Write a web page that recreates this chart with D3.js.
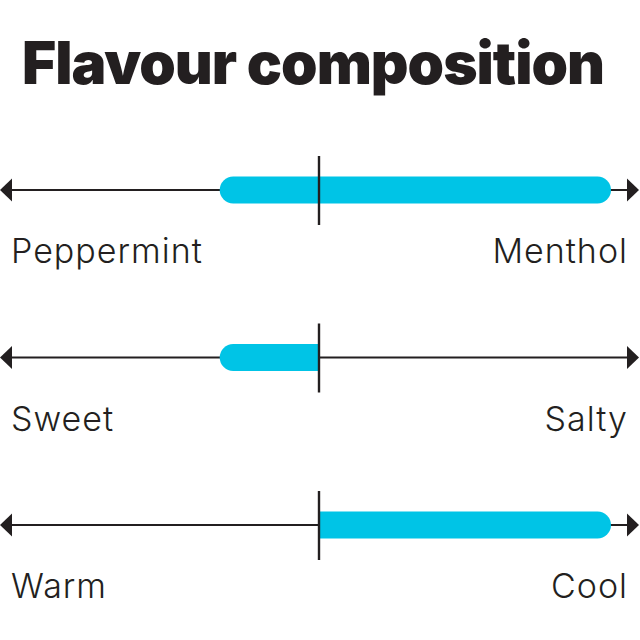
<!DOCTYPE html>
<html>
<head>
<meta charset="utf-8">
<script src="https://cdn.jsdelivr.net/npm/d3@7"></script>
<style>
  html, body { margin: 0; padding: 0; background: #fff; }
  svg { display: block; }
</style>
</head>
<body>
<div class="chart"></div>
<script>
// flavour rows: left pole, right pole, bar extent on a -100..100 scale
const leftLabels = ["Peppermint", "Sweet", "Warm"];
const rightLabels = ["Menthol", "Salty", "Cool"];
const barFrom = [-34, -34, 0];
const barTo = [100, 0, 100];

const width = 640;
const height = 640;
const ink = "#231f20";
const cyan = "#00c4e6";

const svg = d3.select(".chart").append("svg")
  .attr("width", width)
  .attr("height", height);

svg.append("text")
  .attr("x", 22)
  .attr("y", 84)
  .style("font-family", "Inter, Roboto, sans-serif")
  .style("font-weight", 900)
  .style("font-size", "58.5px")
  .style("letter-spacing", "-1px")
  .style("fill", ink)
  .text("Flavour composition");

const x = d3.scaleLinear().domain([-100, 100]).range([27, 611]);
const y = d3.scalePoint().domain(d3.range(leftLabels.length)).range([190, 525]);

const barH = 27;
const r = barH / 2;

// bar with rounded outer ends, flat where it meets the centre line
function barPath(a, b, cy) {
  const x0 = x(a), x1 = x(b);
  const top = cy - r, bot = cy + r;
  const roundL = a !== 0, roundR = b !== 0;
  let p = "";
  if (roundL) {
    p += `M${x0 + r},${top}`;
  } else {
    p += `M${x0},${top}`;
  }
  if (roundR) {
    p += `L${x1 - r},${top}A${r},${r} 0 0 1 ${x1 - r},${bot}`;
  } else {
    p += `L${x1},${top}L${x1},${bot}`;
  }
  if (roundL) {
    p += `L${x0 + r},${bot}A${r},${r} 0 0 1 ${x0 + r},${top}Z`;
  } else {
    p += `L${x0},${bot}Z`;
  }
  return p;
}

const rows = svg.selectAll("g.row")
  .data(leftLabels.map((d, i) => i))
  .enter()
  .append("g")
  .attr("class", "row")
  .attr("transform", i => "translate(0," + y(i) + ")");

rows.append("line")
  .attr("x1", 10)
  .attr("x2", 630)
  .attr("y1", 0)
  .attr("y2", 0)
  .attr("stroke", ink)
  .attr("stroke-width", 2.2);

rows.append("path")
  .attr("d", "M0,0L12,-11.5L12,11.5Z")
  .attr("fill", ink);

rows.append("path")
  .attr("d", "M639,0L627,-11.5L627,11.5Z")
  .attr("fill", ink);

rows.append("path")
  .attr("d", i => barPath(barFrom[i], barTo[i], 0))
  .attr("fill", cyan);

rows.append("line")
  .attr("x1", x(0))
  .attr("x2", x(0))
  .attr("y1", -34)
  .attr("y2", 35)
  .attr("stroke", ink)
  .attr("stroke-width", 2.4);

rows.append("text")
  .attr("x", 11)
  .attr("y", 73)
  .style("font-family", "Inter, Lato, sans-serif")
  .style("font-weight", 300)
  .style("font-size", "34px")
  .style("letter-spacing", "1px")
  .style("fill", ink)
  .text(i => leftLabels[i]);

rows.append("text")
  .attr("x", 628)
  .attr("y", 73)
  .attr("text-anchor", "end")
  .style("font-family", "Inter, Lato, sans-serif")
  .style("font-weight", 300)
  .style("font-size", "34px")
  .style("letter-spacing", "1px")
  .style("fill", ink)
  .text(i => rightLabels[i]);
</script>
</body>
</html>
